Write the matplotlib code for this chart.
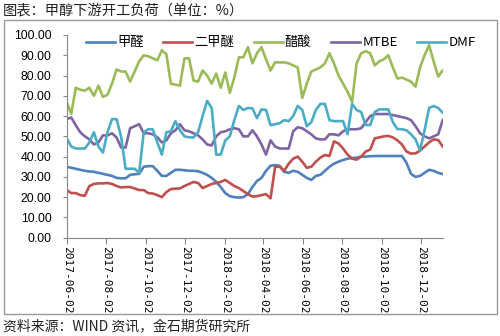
import matplotlib
matplotlib.use("Agg")
import matplotlib.pyplot as plt
import matplotlib.dates as mdates
from matplotlib.patches import Rectangle
import pandas as pd

plt.rcParams['font.family'] = ['Noto Sans CJK SC', 'DejaVu Sans']

start_date = "2017-06-02"
n_weeks = 84

series_names = ["甲醛", "二甲醚", "醋酸", "MTBE", "DMF"]

formaldehyde = [35, 34.5, 34, 33.5, 33, 32.7, 32.5, 32, 31.5, 31, 30.5, 29.5, 29.3, 29.3, 31, 31.3,
                31.5, 35, 35.3, 35.3, 33, 30.5, 30.5, 32, 33.5, 33.5, 33.3, 33, 33, 32.8, 32, 31,
                29.5, 27.5, 25, 22, 20.5, 20, 19.8, 20, 21.5,
                25, 28, 29.5, 33, 35.5, 35.8, 35.5, 32.5, 32, 33, 32.5, 31, 29.5, 28.5, 30.5, 31,
                33, 35, 36.5, 37.5, 38.3, 39, 39.3, 39.5, 40, 40, 40.2, 40.3, 40.3, 40.3, 40.3,
                40.3, 40.3, 40.3, 37, 31.5, 30, 30.5, 32, 33.5, 33, 32, 31.4]

dme = [23.5, 22, 22, 21, 20.7, 25.5, 26.5, 26.8, 26.8, 27, 26.5, 25.5, 24.8, 25, 25, 24.3,
       23.5, 23.5, 22, 21.8, 21, 20, 22.5, 24, 24.2, 24.3, 25.5, 26.5, 27.5, 27, 24.5, 25.5,
       26.5, 27, 27.5, 28.5, 27, 25.5, 24.5, 23, 21.5,
       20.3, 20.5, 21, 21.5, 19.4, 35, 35, 33, 36.5, 39, 40, 37.5, 34.5, 35, 37.5, 39.5,
       40.8, 40.3, 47.5, 46.5, 44, 41, 39, 38.5, 40, 42.5, 43.5, 49, 49.5, 50, 50.2, 49.5,
       48, 46, 42.5, 41.5, 41.6, 43, 45, 47, 48.5, 48.2, 45]

acetic = [67, 61, 74, 73, 72.5, 74, 70, 75, 69.5, 70.5, 76, 83, 82, 82, 77, 82,
          87, 90, 89.5, 88.5, 87.5, 92.5, 90.5, 76, 75.5, 75, 88.5, 88.5, 77.5, 77, 82.5, 80,
          76, 81, 74, 81.5, 71.5, 79, 89, 89, 94,
          86, 91, 94, 88, 82.5, 86.5, 86.5, 86.5, 86, 85, 84, 69, 76, 82, 83, 84,
          86, 91, 86, 80, 76, 72, 67, 86, 91, 92, 91, 85, 87, 88, 90, 84,
          78.5, 79, 78, 77, 74.5, 84, 90, 95, 87, 79.5, 82.5]

mtbe = [58.5, 59.3, 55.5, 52, 50, 48.5, 46, 47, 50.5, 50.5, 51.5, 49.5, 44.5, 44.5, 54, 55,
        56, 51.5, 51.5, 51, 49.5, 47, 48, 51.5, 53, 56, 53, 52.5, 51.5, 50.5, 48.5, 46,
        45.5, 50, 52, 52.5, 53.5, 54, 53.5, 50, 50,
        53, 50, 46, 41, 48, 45, 44, 44, 44, 52.5, 54.5, 54, 52.5, 51, 49, 48.5,
        48.5, 51, 51, 50.5, 52.5, 53.5, 53.5, 53.5, 54, 57, 60, 61, 61, 61, 61, 60.5,
        60, 59.5, 59, 58, 55, 51.5, 50, 49, 50, 51, 58]

dmf = [49, 45, 44, 44, 44, 47, 52, 45, 42, 52, 58.5, 58.5, 50, 34, 34, 34,
       32, 52, 53.5, 53.5, 47, 41, 52, 52.5, 57.5, 53, 50, 49.5, 49.5, 52, 60, 67.5,
       64, 41, 41, 48, 50, 58, 65, 63, 64,
       63.8, 59, 63.3, 63, 55.5, 56, 56.5, 58, 57.5, 60, 65, 63, 55, 57, 63, 66,
       66, 58, 57.5, 57.5, 57.5, 51, 66, 63, 62, 55.6, 55.6, 62, 63.3, 63.3, 63.3, 57,
       53.6, 53.5, 53, 51, 48.5, 43, 53, 64, 65, 64, 61.7]

y_ticks = [0, 10, 20, 30, 40, 50, 60, 70, 80, 90, 100]

colors = ["#4F81BD", "#C0504D", "#9BBB59", "#8064A2", "#4BACC6"]

dates = pd.date_range(start_date, periods=n_weeks, freq="7D")

fig = plt.figure(figsize=(5.0, 3.36), dpi=100)
W, H = 500, 336

# outer frame
fig.patches.append(Rectangle((3.5 / W, 1 - 313.5 / H), 493 / W, 294 / H,
                             transform=fig.transFigure, fill=False,
                             edgecolor="#9A9A9A", linewidth=1.0))

ax = fig.add_axes([66.7 / W, 1 - 237.7 / H, (442.7 - 66.7) / W, (237.7 - 35) / H])

for name, vals, c in zip(series_names, [formaldehyde, dme, acetic, mtbe, dmf], colors):
    ax.plot(dates, vals, color=c, linewidth=1.9, label=name, solid_joinstyle="round")

ax.set_ylim(0, 100)
ax.set_xlim(dates[0], dates[-1])
ax.set_yticks(y_ticks)
ax.set_yticklabels([f"{v:.2f}" for v in y_ticks], fontfamily="Liberation Sans", fontsize=8.8)

ax.xaxis.set_major_locator(mdates.MonthLocator(bymonth=[2, 4, 6, 8, 10, 12], bymonthday=2))
ax.xaxis.set_major_formatter(mdates.DateFormatter("%Y-%m-%d"))
for lbl in ax.get_xticklabels():
    lbl.set_rotation(-90)
    lbl.set_fontfamily("DejaVu Sans Mono")
    lbl.set_fontsize(8.0)

for s in ["top", "right"]:
    ax.spines[s].set_visible(False)
for s in ["left", "bottom"]:
    ax.spines[s].set_color("#868686")
    ax.spines[s].set_linewidth(0.8)
ax.tick_params(axis="y", direction="out", length=3, color="#868686", pad=8)
ax.tick_params(axis="x", direction="out", length=4, color="#868686", pad=2)
ax.patch.set_alpha(0)

leg = fig.legend(loc="center left", bbox_to_anchor=(86 / W, 1 - 42.7 / H), ncol=5,
                 frameon=False, fontsize=9.5, handlelength=2.2, handletextpad=0.15,
                 columnspacing=1.5, borderpad=0, borderaxespad=0)

fig.text(3 / W, 1 - 10 / H, "图表：甲醇下游开工负荷（单位：%）", fontsize=10.3,
         ha="left", va="center", color="#222222")
fig.text(3 / W, 1 - 327 / H, "资料来源：WIND 资讯，金石期货研究所", fontsize=10,
         ha="left", va="center", color="#222222")

fig.savefig("out.png", dpi=100)
